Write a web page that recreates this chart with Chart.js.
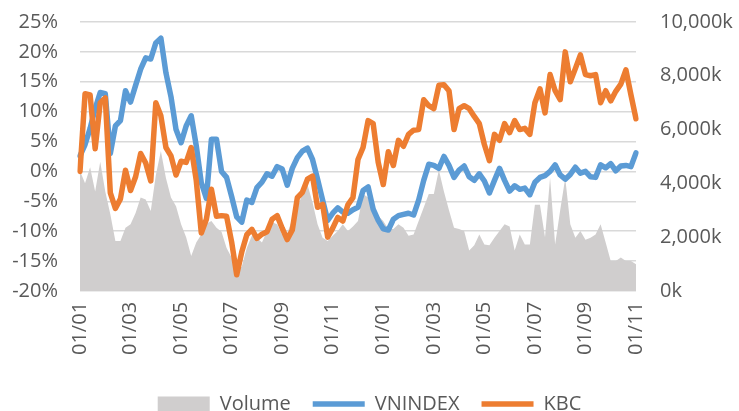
<!DOCTYPE html>
<html>
<head>
<meta charset="utf-8">
<script src="https://cdn.jsdelivr.net/npm/chart.js@4.4.0/dist/chart.umd.min.js"></script>
<style>
    html, body { margin: 0; padding: 0; background: #fff; overflow: hidden; }
    #chart { position: absolute; left: 0; top: -14px; }
</style>
</head>
<body>
<canvas id="chart" width="739" height="425"></canvas>
<script>
// tick labels every two months
const tickLabels = ['01/01', '01/03', '01/05', '01/07', '01/09', '01/11',
                    '01/01', '01/03', '01/05', '01/07', '01/09', '01/11'];

// VNINDEX, % change
const vnindex = [
    2.6, 4.5, 7.2, 10.5, 13.2, 13.0, 3.0, 7.6, 8.5, 13.5,
    11.6, 14.4, 17.1, 19.0, 18.8, 21.5, 22.3, 16.5, 12.5, 7.0,
    4.8, 7.6, 9.3, 4.3, -1.9, -4.5, 5.4, 5.4, 0.0, -1.0,
    -4.2, -7.6, -8.5, -4.8, -5.2, -2.7, -1.8, -0.4, -0.8, 0.8,
    0.4, -2.3, 0.5, 2.3, 3.4, 3.9, 2.0, -1.3, -4.8, -8.2,
    -7.0, -6.1, -6.8, -7.0, -6.4, -6.0, -3.2, -2.6, -6.3, -8.2,
    -9.6, -9.8, -8.0, -7.4, -7.2, -7.0, -7.3, -4.8, -1.5, 1.2,
    1.0, 0.5, 2.5, 1.0, -1.0, 0.2, 0.9, -0.9, -1.5, -0.4,
    -1.6, -3.6, -1.5, 0.5, -1.5, -3.3, -2.4, -3.0, -2.8, -3.9,
    -1.8, -1.0, -0.7, 0.0, 1.1, -0.6, -1.3, -0.5, 0.7, -0.3,
    0.0, -0.9, -1.0, 1.1, 0.6, 1.3, 0.1, 0.9, 1.0, 0.8,
    3.1
];

// KBC, % change
const kbc = [
    0.0, 13.0, 12.8, 3.8, 11.5, 12.3, -3.6, -6.2, -4.6, 0.2,
    -3.2, -0.9, 3.0, 1.4, -1.6, 11.5, 9.3, 4.0, 2.6, -0.6,
    1.7, 1.5, 4.0, -1.5, -10.3, -8.0, -3.0, -7.5, -7.4, -7.5,
    -11.8, -17.3, -13.5, -10.6, -9.7, -11.2, -10.5, -10.1, -8.0, -7.4,
    -9.5, -11.4, -9.8, -4.4, -3.5, -1.3, -0.8, -6.0, -5.5, -11.0,
    -9.5, -7.7, -8.3, -5.6, -4.4, 2.0, 4.0, 8.5, 8.0, 1.5,
    -2.2, 3.3, 1.0, 5.2, 4.2, 6.2, 6.9, 7.0, 12.0, 11.0,
    10.5, 14.4, 14.5, 13.5, 7.0, 10.5, 11.0, 10.5, 9.2, 8.0,
    4.5, 1.8, 6.2, 5.2, 8.0, 6.5, 8.5, 7.0, 7.2, 6.2,
    11.5, 13.8, 9.8, 16.2, 13.5, 12.0, 20.0, 15.0, 17.2, 19.5,
    16.2, 16.0, 16.2, 11.5, 13.5, 11.8, 13.4, 14.6, 17.0, 12.8,
    8.8
];

// volume, thousands
const volume = [
    4460, 4000, 4600, 3700, 4800, 3700, 2850, 1860, 1860, 2350,
    2480, 2900, 3470, 3400, 2970, 4300, 5200, 4200, 3470, 3150,
    2480, 2000, 1300, 1800, 2100, 2500, 2600, 2350, 2200, 1600,
    1240, 800, 900, 1600, 2050, 1980, 1800, 2230, 2550, 2480,
    2100, 2150, 2650, 3100, 3600, 3960, 3300, 2480, 1980, 1860,
    2050, 2230, 2480, 2230, 2400, 2600, 3600, 3470, 2850, 2800,
    2600, 2300, 2300, 2480, 2350, 2050, 2100, 2600, 3100, 3600,
    3600, 4500, 3700, 3000, 2350, 2300, 2230, 1500, 1700, 2100,
    1730, 1700, 1980, 2230, 2480, 2400, 1500, 2100, 1730, 1730,
    3200, 3200, 2000, 4200, 1730, 3000, 4200, 2480, 1980, 2230,
    1900, 1980, 2100, 2480, 1800, 1115, 1115, 1240, 1115, 1115,
    990
];

const labels = volume.map((v, i) => (i % 10 === 0 ? tickLabels[i / 10] : ''));

const textColor = '#595959';
const font = { family: 'Open Sans', size: 20 };

new Chart(document.getElementById('chart'), {
    type: 'line',
    data: {
        labels: labels,
        datasets: [
            {
                label: 'Volume',
                data: volume,
                yAxisID: 'y1',
                fill: 'origin',
                backgroundColor: '#D0CECE',
                borderColor: '#D0CECE',
                borderWidth: 0,
                pointRadius: 0,
                pointStyle: 'rect',
                tension: 0,
                order: 3
            },
            {
                label: 'VNINDEX',
                data: vnindex,
                yAxisID: 'y',
                borderColor: '#5B9BD5',
                backgroundColor: '#5B9BD5',
                borderWidth: 5.5,
                borderJoinStyle: 'round',
                borderCapStyle: 'round',
                pointRadius: 0,
                pointStyle: 'line',
                tension: 0,
                order: 2
            },
            {
                label: 'KBC',
                data: kbc,
                yAxisID: 'y',
                borderColor: '#ED7D31',
                backgroundColor: '#ED7D31',
                borderWidth: 5.5,
                borderJoinStyle: 'round',
                borderCapStyle: 'round',
                pointRadius: 0,
                pointStyle: 'line',
                tension: 0,
                order: 1
            }
        ]
    },
    options: {
        responsive: false,
        animation: false,
        devicePixelRatio: 1,
        layout: { padding: { top: 0, bottom: -13, left: 0, right: 0 } },
        plugins: {
            tooltip: { enabled: false },
            legend: {
                position: 'bottom',
                labels: {
                    usePointStyle: true,
                    pointStyleWidth: 52,
                    boxHeight: 15,
                    padding: 22,
                    color: textColor,
                    font: font,
                    sort: (a, b) => a.datasetIndex - b.datasetIndex
                }
            }
        },
        scales: {
            x: {
                grid: { display: false, drawTicks: false },
                border: { display: false },
                ticks: {
                    autoSkip: false,
                    minRotation: 90,
                    maxRotation: 90,
                    padding: 11,
                    color: textColor,
                    font: font
                },
                afterFit: scale => { scale.height += 6; }
            },
            y: {
                position: 'left',
                min: -20,
                max: 25,
                grid: { color: '#D9D9D9', lineWidth: 1.5, drawTicks: false },
                border: { display: false },
                ticks: {
                    stepSize: 5,
                    padding: 22,
                    color: textColor,
                    font: font,
                    callback: v => v + '%'
                },
                afterFit: scale => { scale.width = 80; }
            },
            y1: {
                position: 'right',
                min: 0,
                max: 10000,
                grid: { display: false, drawTicks: false },
                border: { display: false },
                ticks: {
                    stepSize: 2000,
                    padding: 24,
                    color: textColor,
                    font: font,
                    callback: v => v.toLocaleString('en-US') + 'k'
                },
                afterFit: scale => { scale.width = 103; }
            }
        }
    }
});
</script>
</body>
</html>
